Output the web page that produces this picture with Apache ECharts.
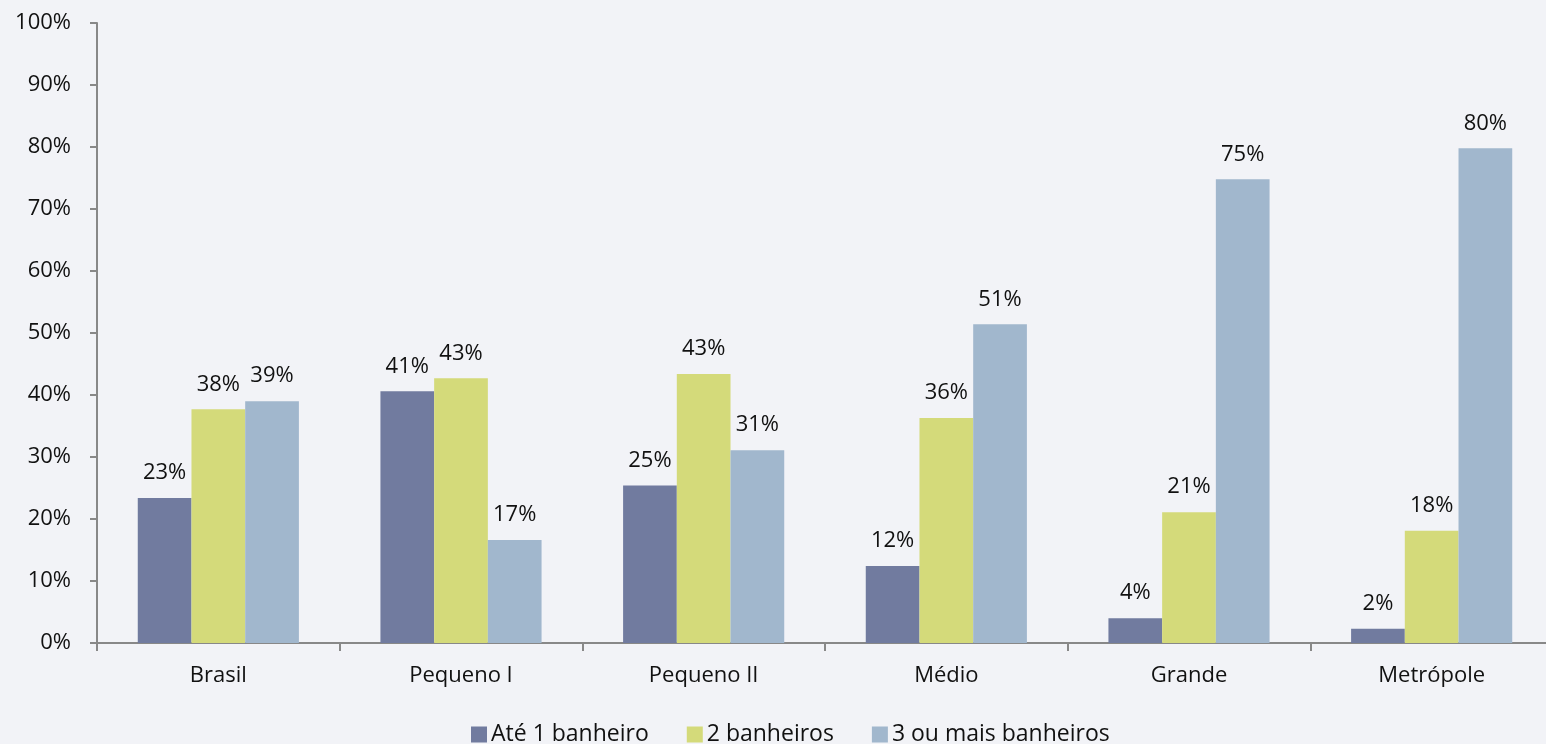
<!DOCTYPE html>
<html><head><meta charset="utf-8">
<script src="https://cdn.jsdelivr.net/npm/echarts@6/dist/echarts.min.js"></script>
<style>html,body{margin:0;padding:0;background:#f2f3f7;}#c{width:1546px;height:744px;}</style>
</head><body><div id="c"></div>
<script>
const categories = ['Brasil', 'Pequeno I', 'Pequeno II', 'Médio', 'Grande', 'Metrópole'];
const seriesNames = ['Até 1 banheiro', '2 banheiros', '3 ou mais banheiros'];
const ate1 = [23.4, 40.6, 25.4, 12.4, 4.0, 2.3];
const dois = [37.7, 42.7, 43.4, 36.3, 21.1, 18.1];
const tresMais = [39.0, 16.6, 31.1, 51.4, 74.8, 79.8];
const yTicks = [0, 10, 20, 30, 40, 50, 60, 70, 80, 90, 100];
const colors = ['#717b9f', '#d4da7a', '#a1b7cd'];

const font = '"Open Sans", "Noto Sans", sans-serif';
const chart = echarts.init(document.getElementById('c'));
const mk = (name, data, i) => ({
  name, type: 'bar', data, barGap: '0%', barCategoryGap: '33.6%',
  itemStyle: { color: colors[i] },
  label: { show: true, position: 'top', distance: 14, formatter: p => Math.round(p.value) + '%',
    color: '#111', fontSize: 22, fontFamily: font },
  emphasis: { disabled: true }
});
chart.setOption({
  backgroundColor: '#f2f3f7',
  animation: false,
  textStyle: { fontFamily: font },
  grid: { left: 97, width: 1456, top: 23, bottom: 101, containLabel: false, outerBoundsMode: 'none' },
  legend: {
    bottom: -7, left: 466, itemWidth: 16, itemHeight: 16, itemGap: 38,
    icon: 'rect', textStyle: { fontSize: 23, color: '#111', fontFamily: font, padding: [0, 0, 0, -1] },
    data: seriesNames
  },
  xAxis: {
    type: 'category', data: categories,
    axisLine: { lineStyle: { color: '#888', width: 2 } },
    axisTick: { show: true, length: 8, lineStyle: { color: '#888', width: 2 } },
    axisLabel: { fontSize: 22, color: '#111', margin: 22, fontFamily: font }
  },
  yAxis: {
    type: 'value', min: 0, max: 100, interval: 10,
    axisLine: { show: true, lineStyle: { color: '#888', width: 2 } },
    axisTick: { show: true, length: 7, lineStyle: { color: '#888', width: 2 } },
    splitLine: { show: false },
    axisLabel: { fontSize: 22, color: '#111', margin: 26, fontFamily: font,
      formatter: v => yTicks.includes(v) ? v + '%' : '' }
  },
  series: [mk(seriesNames[0], ate1, 0), mk(seriesNames[1], dois, 1), mk(seriesNames[2], tresMais, 2)]
});
</script></body></html>
